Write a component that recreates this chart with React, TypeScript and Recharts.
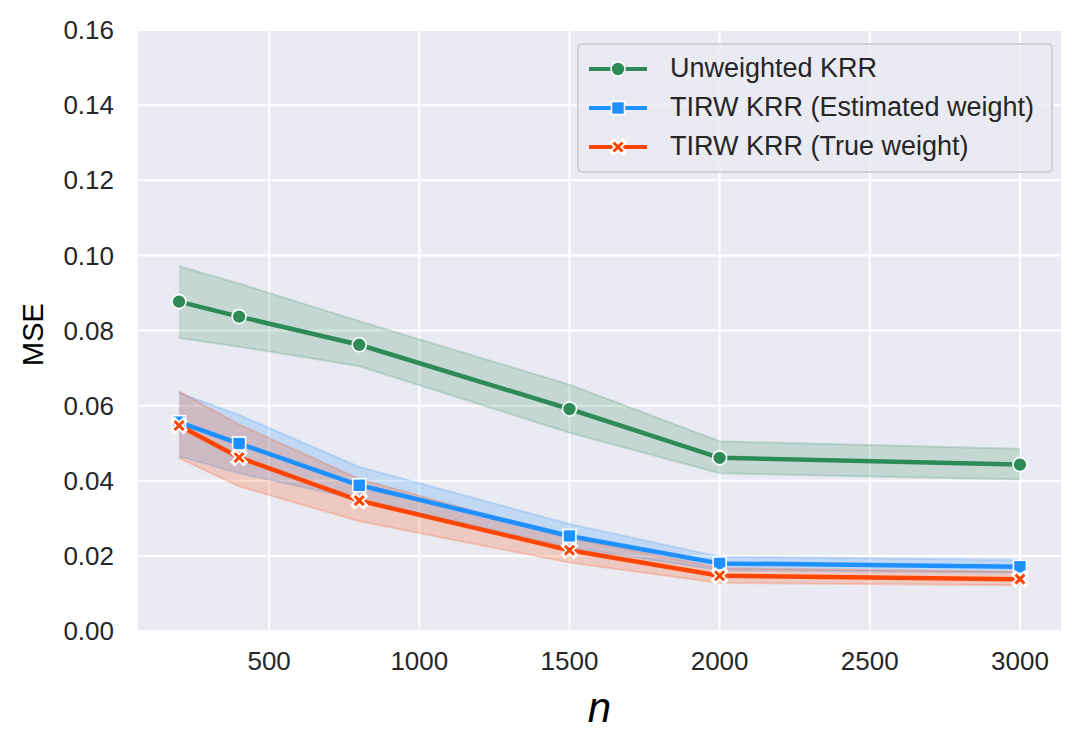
import React from 'react'
import {
  ComposedChart,
  Line,
  Area,
  XAxis,
  YAxis,
  CartesianGrid,
  Legend,
  Label,
} from 'recharts'

const nValues = [200, 400, 800, 1500, 2000, 3000]

const unweighted = [0.0877, 0.0837, 0.0762, 0.0591, 0.0461, 0.0443]
const unweightedLow = [0.078, 0.0757, 0.0705, 0.0528, 0.042, 0.0403]
const unweightedHigh = [0.0971, 0.0925, 0.0825, 0.0656, 0.0505, 0.0485]

const estimated = [0.0556, 0.0499, 0.0388, 0.0253, 0.018, 0.0171]
const estimatedLow = [0.0465, 0.042, 0.035, 0.0222, 0.0162, 0.0155]
const estimatedHigh = [0.0634, 0.0575, 0.0437, 0.0285, 0.0198, 0.0189]

const trueWeight = [0.0547, 0.0462, 0.0347, 0.0215, 0.0147, 0.0138]
const trueLow = [0.046, 0.0385, 0.0292, 0.0182, 0.0128, 0.0122]
const trueHigh = [0.0638, 0.055, 0.0405, 0.0248, 0.0168, 0.0158]

const xTicks = [500, 1000, 1500, 2000, 2500, 3000]
const yTicks = [0, 0.02, 0.04, 0.06, 0.08, 0.1, 0.12, 0.14, 0.16]

const seriesNames = ['Unweighted KRR', 'TIRW KRR (Estimated weight)', 'TIRW KRR (True weight)']

const GREEN = '#2e8b57'
const BLUE = '#1e90ff'
const RED = '#ff4500'
const TEXT = '#262626'
const FONT = '"Liberation Sans", Arial, sans-serif'

const data = nValues.map((n, i) => ({
  n,
  unw: unweighted[i],
  unwBand: [unweightedLow[i], unweightedHigh[i]],
  est: estimated[i],
  estBand: [estimatedLow[i], estimatedHigh[i]],
  tru: trueWeight[i],
  truBand: [trueLow[i], trueHigh[i]],
}))

function CircleMark({ cx, cy }: { cx: number; cy: number }) {
  return <circle cx={cx} cy={cy} r={7} fill={GREEN} stroke="#fff" strokeWidth={1.6} />
}

function SquareMark({ cx, cy }: { cx: number; cy: number }) {
  return <rect x={cx - 6.5} y={cy - 6.5} width={13} height={13} fill={BLUE} stroke="#fff" strokeWidth={1.6} />
}

function CrossMark({ cx, cy }: { cx: number; cy: number }) {
  const s = 4.5
  const d = `M${cx - s},${cy - s}L${cx + s},${cy + s}M${cx - s},${cy + s}L${cx + s},${cy - s}`
  return (
    <g>
      <path d={d} stroke="#fff" strokeWidth={6.5} strokeLinecap="square" />
      <path d={d} stroke={RED} strokeWidth={3} strokeLinecap="butt" />
    </g>
  )
}

const dotFor = (Mark: typeof CircleMark) => (p: any) =>
  <Mark key={`m-${p.index}`} cx={p.cx} cy={p.cy} />

function LegendBox() {
  const marks = [CircleMark, SquareMark, CrossMark]
  const colors = [GREEN, BLUE, RED]
  return (
    <div
      style={{
        width: 476,
        height: 130,
        boxSizing: 'border-box',
        border: '2px solid #d0d0d6',
        borderRadius: 5,
        background: 'rgba(234,234,242,0.8)',
        fontFamily: FONT,
        fontSize: 27,
        color: TEXT,
      }}
    >
      {seriesNames.map((name, i) => {
        const M = marks[i]
        return (
          <div key={name} style={{ display: 'flex', alignItems: 'center', height: 39, marginTop: i === 0 ? 4 : 0 }}>
            <svg width={62} height={30} style={{ marginLeft: 8, flexShrink: 0 }}>
              <line x1={2} y1={15} x2={60} y2={15} stroke={colors[i]} strokeWidth={4} />
              <M cx={31} cy={15} />
            </svg>
            <span style={{ marginLeft: 21, whiteSpace: 'nowrap' }}>{name}</span>
          </div>
        )
      })}
    </div>
  )
}

export default function App() {
  return (
    <div style={{ width: 1085, height: 748, background: '#fff' }}>
      <style>{`body{margin:0}`}</style>
      <ComposedChart width={1085} height={748} data={data} margin={{ top: 30, right: 23, left: 0, bottom: 0 }}>
        <CartesianGrid fill="#eaeaf2" stroke="#fff" strokeWidth={2} />
        <XAxis
          type="number"
          dataKey="n"
          domain={[60, 3140]}
          ticks={xTicks}
          allowDataOverflow
          height={117}
          axisLine={false}
          tickLine={false}
          tickSize={0}
          tickMargin={21}
          tick={{ fill: TEXT, fontSize: 26, fontFamily: FONT }}
        >
          <Label
            content={({ viewBox }: any) => (
              <text
                x={viewBox.x + viewBox.width / 2}
                y={722}
                textAnchor="middle"
                fontSize={42}
                fontStyle="italic"
                fontFamily={FONT}
                fill="#000"
              >
                n
              </text>
            )}
          />
        </XAxis>
        <YAxis
          type="number"
          domain={[0, 0.16]}
          ticks={yTicks}
          width={137}
          axisLine={false}
          tickLine={false}
          tickSize={0}
          tickMargin={23}
          tickFormatter={(v: number) => v.toFixed(2)}
          tick={{ fill: TEXT, fontSize: 26, fontFamily: FONT }}
        >
          <Label
            content={({ viewBox }: any) => {
              const cy = viewBox.y + viewBox.height / 2 + 4
              return (
                <text
                  x={43}
                  y={cy}
                  transform={`rotate(-90 43 ${cy})`}
                  textAnchor="middle"
                  fontSize={29}
                  fontFamily={FONT}
                  fill="#000"
                >
                  MSE
                </text>
              )
            }}
          />
        </YAxis>
        <Area dataKey="unwBand" type="linear" fill={GREEN} fillOpacity={0.2} stroke={GREEN} strokeOpacity={0.2} strokeWidth={2} isAnimationActive={false} legendType="none" />
        <Area dataKey="estBand" type="linear" fill={BLUE} fillOpacity={0.2} stroke={BLUE} strokeOpacity={0.2} strokeWidth={2} isAnimationActive={false} legendType="none" />
        <Area dataKey="truBand" type="linear" fill={RED} fillOpacity={0.2} stroke={RED} strokeOpacity={0.2} strokeWidth={2} isAnimationActive={false} legendType="none" />
        <Line dataKey="unw" type="linear" stroke={GREEN} strokeWidth={4.5} dot={dotFor(CircleMark)} activeDot={false} isAnimationActive={false} />
        <Line dataKey="est" type="linear" stroke={BLUE} strokeWidth={4.5} dot={dotFor(SquareMark)} activeDot={false} isAnimationActive={false} />
        <Line dataKey="tru" type="linear" stroke={RED} strokeWidth={4.5} dot={dotFor(CrossMark)} activeDot={false} isAnimationActive={false} />
        <Legend
          layout="vertical"
          align="center"
          verticalAlign="middle"
          content={() => <LegendBox />}
          wrapperStyle={{ left: 577, top: 43, width: 476, height: 130 }}
        />
      </ComposedChart>
    </div>
  )
}
